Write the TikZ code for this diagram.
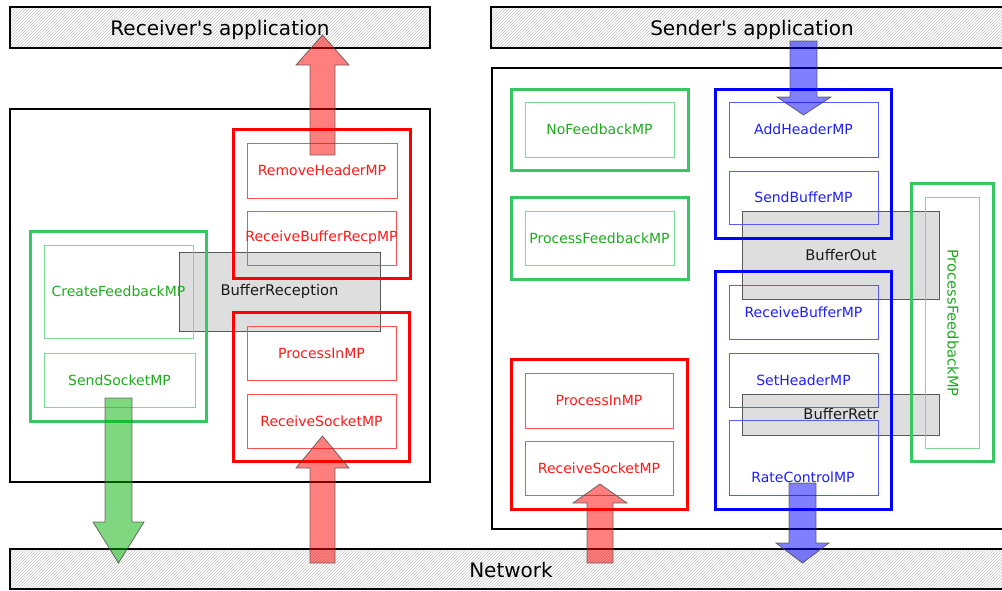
\documentclass[tikz,border=0pt]{standalone}
\usepackage{fontspec}
\setmainfont{DejaVu Sans}[Ligatures=TeXOff]
\usetikzlibrary{patterns,fit}
\definecolor{grpgreen}{RGB}{55,200,100}
\definecolor{ingreen}{RGB}{120,220,150}
\definecolor{txtgreen}{RGB}{30,170,30}
\definecolor{grpred}{RGB}{255,0,0}
\definecolor{inred}{RGB}{255,80,80}
\definecolor{txtred}{RGB}{255,25,25}
\definecolor{grpblue}{RGB}{0,0,255}
\definecolor{inblue}{RGB}{90,90,255}
\definecolor{txtblue}{RGB}{30,30,255}
\definecolor{arrred}{RGB}{255,0,0}
\definecolor{arrgreen}{RGB}{0,178,0}
\definecolor{arrblue}{RGB}{0,0,255}
\tikzset{
  lbl/.style={font=\fontsize{14}{16}\selectfont, inner sep=0pt},
  biglbl/.style={font=\fontsize{14.7}{17}\selectfont, inner sep=0pt},
  ttl/.style={font=\fontsize{20}{24}\selectfont, inner sep=0pt, anchor=base},
  appbox/.style={draw=black, line width=2pt, pattern=north east lines, pattern color=gray!45, inner sep=0pt},
  outerbox/.style={draw=black, line width=2.4pt, inner sep=0pt},
  ggrp/.style={draw=grpgreen, line width=3pt, inner sep=0pt},
  rgrp/.style={draw=grpred, line width=3pt, inner sep=0pt},
  bgrp/.style={draw=grpblue, line width=3pt, inner sep=0pt},
  gin/.style={draw=ingreen, line width=1pt, inner sep=0pt},
  rin/.style={draw=inred, line width=1pt, inner sep=0pt},
  bin/.style={draw=inblue, line width=1pt, inner sep=0pt},
  gtxt/.style={lbl, text=txtgreen},
  rtxt/.style={lbl, text=txtred},
  btxt/.style={lbl, text=txtblue},
  buftxt/.style={biglbl, text=black!90},
  bufbox/.style={draw=black!65, fill=black!13, line width=1pt, inner sep=0pt},
  blockarrow/.style={draw=black!70, line width=0.8pt, fill opacity=0.5, draw opacity=0.8},
}
\begin{document}
\begin{tikzpicture}[x=1pt,y=-1pt]
\useasboundingbox (0,0) rectangle (1002,590);
\clip (0,0) rectangle (1002,590);
% buffers (drawn first, behind)
\node[bufbox, fit={(179,252) (380,331)}] (bufrec) {};
\node[buftxt] (bufrecT) at (bufrec.center) {BufferReception};
\node[bufbox, fit={(742,211) (939,299)}] (bufout) {};
\node[buftxt] (bufoutT) at (841,255) {BufferOut};
\node[bufbox, fit={(742,394) (939,435)}] (bufretr) {};
\node[buftxt] (bufretrT) at (841,414) {BufferRetr};
% application and network bars
\node[appbox, fit={(10,7) (430,48)}] (recapp) {};
\node[ttl] (recappT) at (220,35) {Receiver's application};
\node[appbox, fit={(491,7) (1012,48)}] (sndapp) {};
\node[ttl] (sndappT) at (752,35) {Sender's application};
\node[appbox, fit={(10,549) (1012,589)}] (net) {};
\node[ttl] (netT) at (511,577) {Network};
% outer boxes
\node[outerbox, fit={(10,109) (430,482)}] (recv) {};
\node[outerbox, fit={(492,68) (1012,529)}] (send) {};
% receiver side
\node[rgrp, fit={(233,129) (410,278)}] (rg1) {};
\node[rin, fit={(247,143) (397,198)}] (rh) {};
\node[rtxt] at (rh.center) {RemoveHeaderMP};
\node[rin, fit={(247,211) (396,265)}] (rbr) {};
\node[rtxt] at (rbr.center) {ReceiveBufferRecpMP};
\node[rgrp, fit={(233,312) (409,461)}] (rg2) {};
\node[rin, fit={(247,326) (396,380)}] (pin1) {};
\node[rtxt] at (pin1.center) {ProcessInMP};
\node[rin, fit={(247,394) (396,448)}] (rs1) {};
\node[rtxt] at (rs1.center) {ReceiveSocketMP};
\node[ggrp, fit={(30,231) (206,421)}] (gg1) {};
\node[gin, fit={(44,245) (193,338)}] (cf) {};
\node[gtxt] at (cf.center) {CreateFeedbackMP};
\node[gin, fit={(44,353) (195,407)}] (ss) {};
\node[gtxt] at (ss.center) {SendSocketMP};
% sender side
\node[ggrp, fit={(511,89) (688,170)}] (gg2) {};
\node[gin, fit={(525,102) (674,157)}] (nf) {};
\node[gtxt] at (nf.center) {NoFeedbackMP};
\node[ggrp, fit={(511,197) (688,279)}] (gg3) {};
\node[gin, fit={(525,211) (674,265)}] (pf) {};
\node[gtxt] at (pf.center) {ProcessFeedbackMP};
\node[rgrp, fit={(511,359) (687,509)}] (rg3) {};
\node[rin, fit={(525,373) (673,428)}] (pin2) {};
\node[rtxt] at (pin2.center) {ProcessInMP};
\node[rin, fit={(525,441) (673,495)}] (rs2) {};
\node[rtxt] at (rs2.center) {ReceiveSocketMP};
\node[bgrp, fit={(715,89) (891,238)}] (bg1) {};
\node[bin, fit={(729,102) (878,157)}] (ah) {};
\node[btxt] at (ah.center) {AddHeaderMP};
\node[bin, fit={(729,171) (878,224)}] (sb) {};
\node[btxt] at (sb.center) {SendBufferMP};
\node[bgrp, fit={(715,271) (891,509)}] (bg2) {};
\node[bin, fit={(729,285) (878,339)}] (rb) {};
\node[btxt] at (rb.center) {ReceiveBufferMP};
\node[bin, fit={(729,353) (878,407)}] (sh) {};
\node[btxt] at (sh.center) {SetHeaderMP};
\node[bin, fit={(729,420) (878,495)}] (rc) {};
\node[btxt] (rcT) at (803,477) {RateControlMP};
\node[ggrp, fit={(911,183) (993,461)}] (gg4) {};
\node[gin, fit={(925,197) (979,448)}] (pf2) {};
\node[biglbl, text=txtgreen, rotate=-90] (pf2T) at (953,323) {ProcessFeedbackMP};
% block arrows
\path[blockarrow, fill=arrred] (310,155) -- (310,65) -- (296,65) -- (322.5,35) -- (349,65) -- (335,65) -- (335,155) -- cycle;
\path[blockarrow, fill=arrred] (310,563) -- (310,468) -- (296,468) -- (322.5,436) -- (349,468) -- (335,468) -- (335,563) -- cycle;
\path[blockarrow, fill=arrred] (587,563) -- (587,503) -- (573,503) -- (600,484) -- (627,503) -- (613,503) -- (613,563) -- cycle;
\path[blockarrow, fill=arrgreen] (105,398) -- (105,522) -- (93,522) -- (118.5,563) -- (144,522) -- (132,522) -- (132,398) -- cycle;
\path[blockarrow, fill=arrblue] (790,41) -- (790,97) -- (777,97) -- (803.5,115) -- (831,97) -- (817,97) -- (817,41) -- cycle;
\path[blockarrow, fill=arrblue] (789,483) -- (789,543) -- (776,543) -- (802.5,563) -- (829,543) -- (816,543) -- (816,483) -- cycle;
\end{tikzpicture}
\end{document}
